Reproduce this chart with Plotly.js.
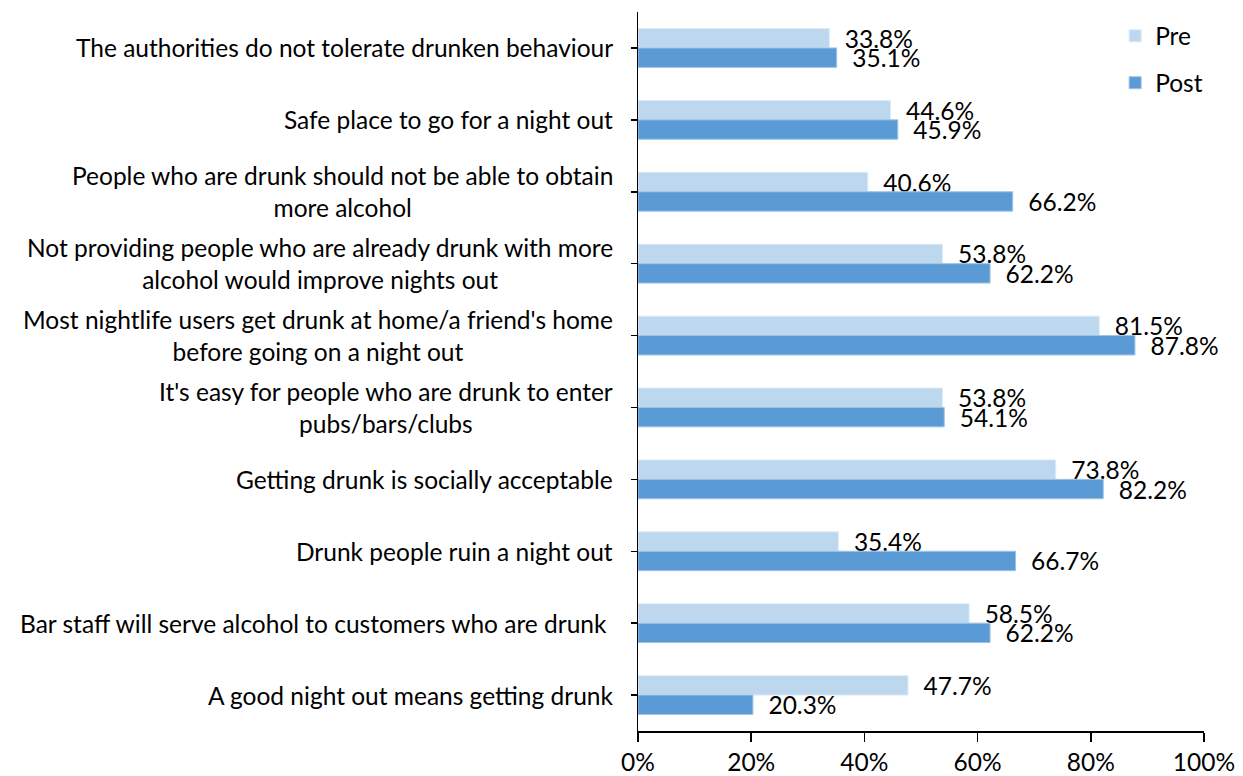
<!DOCTYPE html>
<html>
<head>
<meta charset="utf-8">
<script src="https://cdn.plot.ly/plotly-3.0.1.min.js"></script>
<style>html,body{margin:0;padding:0;background:#fff;}#chart{width:1243px;height:776px;}</style>
</head>
<body>
<div id="chart"></div>
<script>
const categories = [
  "The authorities do not tolerate drunken behaviour",
  "Safe place to go for a night out",
  "People who are drunk should not be able to obtain<br>more alcohol",
  "Not providing people who are already drunk with more<br>alcohol would improve nights out",
  "Most nightlife users get drunk at home/a friend's home<br>before going on a night out",
  "It's easy for people who are drunk to enter<br>pubs/bars/clubs",
  "Getting drunk is socially acceptable",
  "Drunk people ruin a night out",
  "Bar staff will serve alcohol to customers who are drunk\u00a0",
  "A good night out means getting drunk"
];
const preValues  = [33.8, 44.6, 40.6, 53.8, 81.5, 53.8, 73.8, 35.4, 58.5, 47.7];
const postValues = [35.1, 45.9, 66.2, 62.2, 87.8, 54.1, 82.2, 66.7, 62.2, 20.3];
const seriesNames = ["Pre", "Post"];
const xTickValues = [0, 20, 40, 60, 80, 100];
const xTickLabels = ["0%", "20%", "40%", "60%", "80%", "100%"];

const FONT = "Lato, 'Noto Sans', sans-serif";
const FS = 24.5;

const common = {
  type: "bar",
  orientation: "h",
  y: categories,
  textposition: "outside",
  texttemplate: "\u00a0\u00a0%{x:.1f}%",
  textfont: {family: FONT, size: FS, color: "#000"},
  constraintext: "none",
  cliponaxis: false,
  hoverinfo: "none"
};

const traces = [
  Object.assign({}, common, {
    name: seriesNames[0], x: preValues, legendgroup: "a",
    marker: {color: "#BDD7EE", line: {color: "#DDEBF7", width: 1}}
  }),
  Object.assign({}, common, {
    name: seriesNames[1], x: postValues, legendgroup: "b",
    marker: {color: "#5B9BD5", line: {color: "#9DC3E6", width: 1}}
  })
];

const annotations = categories.map(c => ({
  xref: "paper", yref: "y", x: 0, y: c,
  xanchor: "right", yanchor: "middle",
  xshift: -23, align: "center", showarrow: false,
  text: c, font: {family: FONT, size: FS, color: "#000"}
}));

const layout = {
  width: 1243, height: 776,
  margin: {l: 638, r: 39, t: 12, b: 45},
  paper_bgcolor: "#fff", plot_bgcolor: "#fff",
  font: {family: FONT, size: FS, color: "#000"},
  barmode: "group",
  bargap: 0.46,
  bargroupgap: 0,
  showlegend: true,
  legend: {
    x: 0.843, y: 0.998, xanchor: "left", yanchor: "top",
    traceorder: "grouped", tracegroupgap: 12,
    font: {family: FONT, size: FS, color: "#000"},
    bgcolor: "rgba(0,0,0,0)"
  },
  xaxis: {
    range: [0, 100], tickvals: xTickValues, ticktext: xTickLabels,
    showgrid: false, zeroline: false,
    showline: true, linecolor: "#000", linewidth: 1.5,
    ticks: "outside", ticklen: 9, tickcolor: "#000", tickwidth: 1.5,
    tickfont: {family: FONT, size: FS, color: "#000"},
    automargin: false, fixedrange: true
  },
  yaxis: {
    type: "category", autorange: "reversed",
    showticklabels: false, showgrid: false, zeroline: false,
    showline: true, linecolor: "#000", linewidth: 1.5,
    ticks: "outside", ticklen: 6, tickcolor: "#000", tickwidth: 1.5,
    automargin: false, fixedrange: true
  },
  annotations: annotations
};

Plotly.newPlot("chart", traces, layout, {displayModeBar: false, staticPlot: true});
</script>
</body>
</html>
